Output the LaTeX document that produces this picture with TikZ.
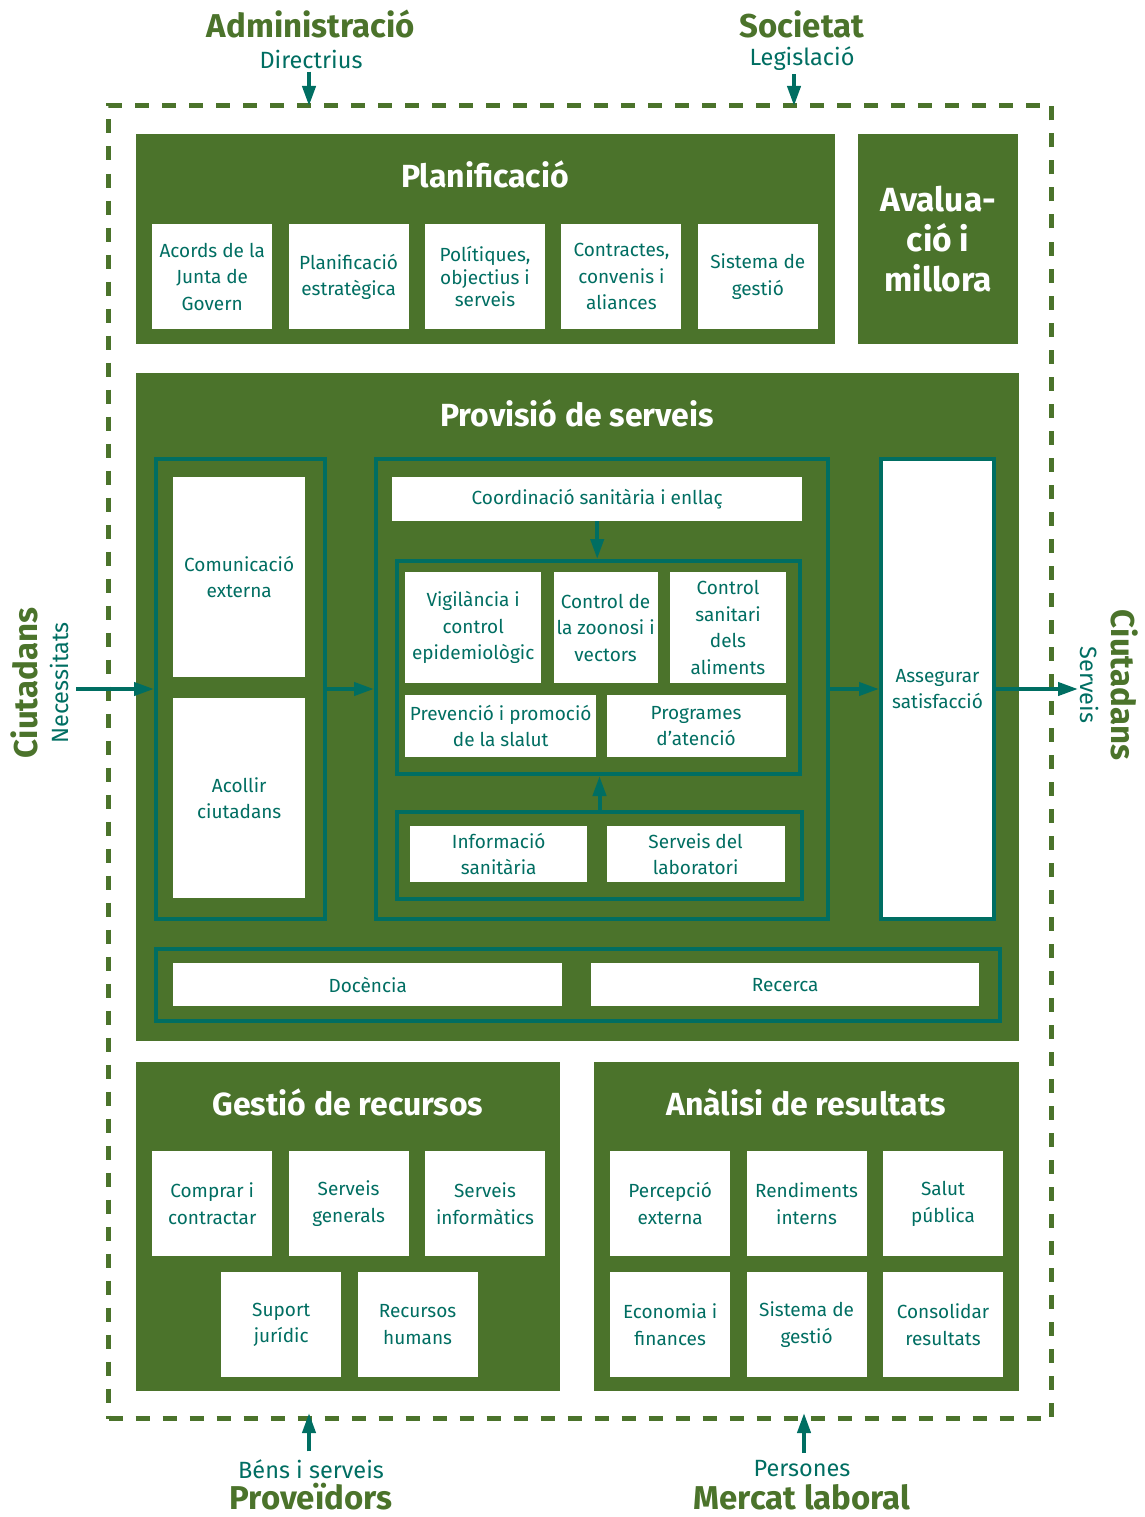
\documentclass[tikz,border=0pt]{standalone}
\usepackage{fontspec}
\setmainfont{Fira Sans}
\usepackage{tikz}
\usetikzlibrary{positioning,arrows.meta}
\definecolor{mygreen}{RGB}{75,115,43}
\definecolor{myteal}{RGB}{0,110,98}

\begin{document}
\begin{tikzpicture}[x=1pt, y=-1pt,
    panel/.style={fill=mygreen, inner sep=0pt, anchor=north west},
    frame/.style={draw=myteal, line width=4pt, inner sep=0pt, anchor=north west},
    item/.style={fill=white, text=myteal, align=center, inner sep=0pt, anchor=north west,
      font=\fontsize{19}{26.5}\selectfont},
    title/.style={text=white, font=\bfseries\fontsize{32}{34}\selectfont},
    head/.style={text=mygreen, inner sep=0pt, font=\bfseries\fontsize{33}{34}\selectfont},
    sub/.style={text=myteal, inner sep=0pt, font=\fontsize{23.5}{26}\selectfont},
    flow/.style={-{Triangle[length=20pt,width=13pt]}, myteal, line width=4pt}]
        \useasboundingbox (0,0) rectangle (1144,1517);

        % system border
        \node[draw=mygreen, line width=5pt, dash pattern=on 14pt off 13pt, inner sep=0pt,
          anchor=north west, minimum width=943, minimum height=1313] (sys) at (106,103) {};

        % outside
        \node[head] (adm) at (311,24) {Administració};
        \node[sub] (dir) at (311,59) {Directrius};
        \node[head] (soc) at (802,24) {Societat};
        \node[sub] (leg) at (802,59) {Legislació};
        \node[sub] (bens) at (311,1469) {Béns i serveis};
        \node[head] (prv) at (311,1497) {Proveïdors};
        \node[sub] (pers) at (802,1469) {Persones};
        \node[head] (merc) at (802,1497) {Mercat laboral};
        \node[head, rotate=90] (cin) at (24,683) {Ciutadans};
        \node[sub, rotate=90] (nec) at (59,683) {Necessitats};
        \node[head, rotate=-90] (cout) at (1125,685) {Ciutadans};
        \node[sub, rotate=-90] (serv) at (1090,685) {Serveis};
        \coordinate (need) at (76,689);
        \coordinate (give) at (1078,689);

        % Planificacio
        \node[panel, minimum width=699, minimum height=210] (plan) at (136,134) {};
        \node[title] (plant) at (485,174) {Planificació};
        \node[item, minimum width=120, minimum height=105] (p1) at (152,224) {Acords de la\\Junta de\\Govern};
        \node[item, minimum width=120, minimum height=105] (p2) [right=16pt of p1] {Planificació\\estratègica};
        \node[item, minimum width=120, minimum height=105, font=\fontsize{19}{22.5}\selectfont] (p3) [right=16pt of p2] {Polítiques,\\objectius i\\serveis};
        \node[item, minimum width=120, minimum height=105] (p4) [right=16pt of p3] {Contractes,\\convenis i\\aliances};
        \node[item, minimum width=120, minimum height=105] (p5) [right=16pt of p4] {Sistema de\\gestió};

        \node[panel, minimum width=160, minimum height=210] (aval) at (858,134) {};
        \node[title, align=center, font=\bfseries\fontsize{33.5}{40}\selectfont] (avalt) at (aval.center) {Avalua-\\ció i\\millora};

        % Provisio de serveis
        \node[panel, minimum width=883, minimum height=668] (prov) at (136,373) {};
        \node[title] (provt) at (577,413) {Provisió de serveis};

        \node[frame, minimum width=169, minimum height=460] (lf) at (154,457) {};
        \node[item, minimum width=132, minimum height=200] (ce) at (173,477) {Comunicació\\externa};
        \node[item, minimum width=132, minimum height=200] (ac) at (173,698) {Acollir\\ciutadans};

        \node[frame, minimum width=452, minimum height=460] (cf) at (374,457) {};
        \node[item, minimum width=410, minimum height=44] (coord) at (392,477) {Coordinació sanitària i enllaç};
        \node[frame, minimum width=403, minimum height=213] (mid) at (395,559) {};
        \node[item, minimum width=136, minimum height=111] (v1) at (405,572) {Vigilància i\\control\\epidemiològic};
        \node[item, minimum width=104, minimum height=111] (v2) [right=12pt of v1] {Control de\\la zoonosi i\\vectors};
        \node[item, minimum width=116, minimum height=111] (v3) [right=12pt of v2] {Control\\sanitari\\dels\\aliments};
        \node[item, minimum width=191, minimum height=62] (v4) at (405,695) {Prevenció i promoció\\de la slalut};
        \node[item, minimum width=179, minimum height=62] (v5) [right=10pt of v4] {Programes\\d’atenció};
        \node[frame, minimum width=405, minimum height=87] (low) at (395,810) {};
        \node[item, minimum width=177, minimum height=56] (l1) at (410,826) {Informació\\sanitària};
        \node[item, minimum width=178, minimum height=56] (l2) [right=19pt of l1] {Serveis del\\laboratori};

        \node[frame, fill=white, minimum width=113, minimum height=460] (rf) at (879,457) {};
        \node[text=myteal, align=center, font=\fontsize{19}{26.5}\selectfont] (sat) at (rf.center) {Assegurar\\satisfacció};

        \node[frame, minimum width=844, minimum height=72] (df) at (154,947) {};
        \node[item, minimum width=389, minimum height=43] (doc) at (173,963) {Docència};
        \node[item, minimum width=388, minimum height=43] (rec) at (591,963) {Recerca};

        % Gestio de recursos
        \node[panel, minimum width=424, minimum height=329] (gest) at (136,1062) {};
        \node[title] (gestt) at (348,1102) {Gestió de recursos};
        \node[item, minimum width=120, minimum height=105] (g1) at (152,1151) {Comprar i\\contractar};
        \node[item, minimum width=120, minimum height=105] (g2) [right=16pt of g1] {Serveis\\generals};
        \node[item, minimum width=120, minimum height=105] (g3) [right=16pt of g2] {Serveis\\informàtics};
        \node[item, minimum width=120, minimum height=105] (g4) at (221,1272) {Suport\\jurídic};
        \node[item, minimum width=120, minimum height=105] (g5) [right=16pt of g4] {Recursos\\humans};

        % Analisi de resultats
        \node[panel, minimum width=425, minimum height=329] (anal) at (594,1062) {};
        \node[title] (analt) at (806,1102) {Anàlisi de resultats};
        \node[item, minimum width=120, minimum height=105] (a1) at (610,1151) {Percepció\\externa};
        \node[item, minimum width=120, minimum height=105] (a2) [right=16pt of a1] {Rendiments\\interns};
        \node[item, minimum width=120, minimum height=105] (a3) [right=16pt of a2] {Salut\\pública};
        \node[item, minimum width=120, minimum height=105] (a4) at (610,1272) {Economia i\\finances};
        \node[item, minimum width=120, minimum height=105] (a5) [right=16pt of a4] {Sistema de\\gestió};
        \node[item, minimum width=120, minimum height=105] (a6) [right=16pt of a5] {Consolidar\\resultats};

        % arrows
        \draw[flow] ([xshift=-2pt,yshift=-3pt]dir.south) -- ([xshift=-2pt,yshift=-3pt]dir.south |- sys.north);
        \draw[flow] ([xshift=-8pt,yshift=-3pt]leg.south) -- ([xshift=-8pt,yshift=-3pt]leg.south |- sys.north);
        \draw[flow] ([xshift=-2pt,yshift=8pt]bens.north) -- ([xshift=-2pt,yshift=8pt]bens.north |- sys.south);
        \draw[flow] ([xshift=2pt,yshift=8pt]pers.north) -- ([xshift=2pt,yshift=8pt]pers.north |- sys.south);
        \draw[flow] (need) -- (need -| lf.west);
        \draw[flow] (lf.east) -- (lf.east -| cf.west);
        \draw[flow] (cf.east) -- (cf.east -| rf.west);
        \draw[flow] (rf.east) -- (rf.east -| give);
        \draw[flow] (coord.south) -- (coord.south |- mid.north);
        \draw[flow] (low.north) -- (low.north |- mid.south);
\end{tikzpicture}
\end{document}
